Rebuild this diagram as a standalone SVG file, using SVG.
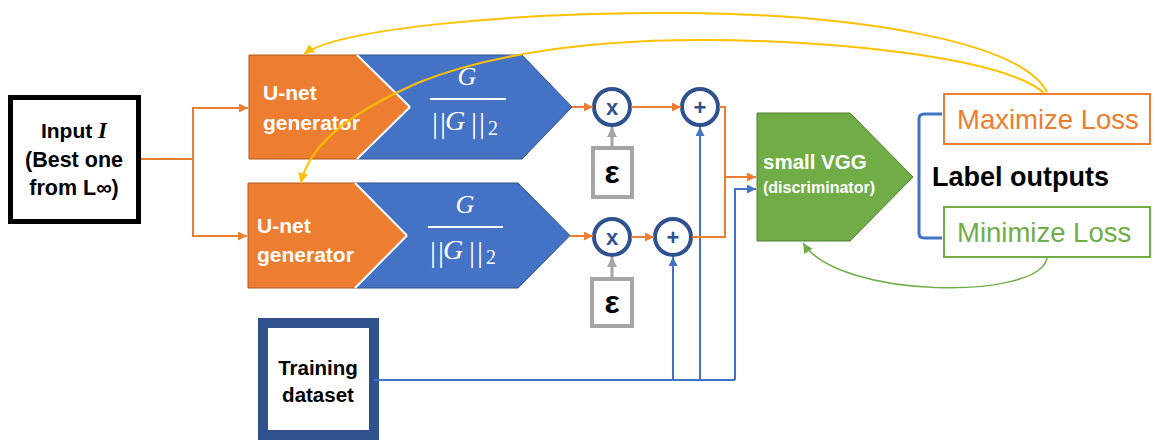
<svg xmlns="http://www.w3.org/2000/svg" width="1155" height="440" viewBox="0 0 1155 440">
  <style>
    .lbl { font-family: "Liberation Sans", Arial, sans-serif; font-weight: bold; }
    .wht { fill: #ffffff; }
    .math { font-family: "Liberation Serif", "DejaVu Serif", serif; fill: #ffffff; }
    .op { font-family: "Liberation Sans", Arial, sans-serif; font-weight: bold; fill: #2F528F; font-size: 22px; text-anchor: middle; }
    .eps { font-family: "Liberation Sans", Arial, sans-serif; font-weight: bold; fill: #000; font-size: 32px; text-anchor: middle; }
    .circ { fill: #ffffff; stroke: #2F528F; stroke-width: 4; }
    .epsbox { fill: #ffffff; stroke: #A5A5A5; stroke-width: 4; }
    .unet { fill: #ED7D31; stroke: #AE5A21; stroke-width: 1; }
    .norm { fill: #4472C4; stroke: #2F528F; stroke-width: 1; }
    .orange { fill: none; stroke: #ED7D31; stroke-width: 2; }
    .blue { fill: none; stroke: #4472C4; stroke-width: 2; }
    .gray { fill: none; stroke: #A5A5A5; stroke-width: 3; }
    .yellow { fill: none; stroke: #FFC000; stroke-width: 2; }
    .green { fill: none; stroke: #70AD47; stroke-width: 1.5; }
  </style>
  <defs>
    <marker id="ahO" viewBox="0 0 10 10" refX="10" refY="5" markerWidth="9" markerHeight="9" markerUnits="userSpaceOnUse" orient="auto">
      <path d="M0,0 L10,5 L0,10 z" fill="#ED7D31"/>
    </marker>
    <marker id="ahB" viewBox="0 0 10 10" refX="10" refY="5" markerWidth="9" markerHeight="9" markerUnits="userSpaceOnUse" orient="auto">
      <path d="M0,0 L10,5 L0,10 z" fill="#4472C4"/>
    </marker>
    <marker id="ahG" viewBox="0 0 10 10" refX="10" refY="5" markerWidth="10" markerHeight="10" markerUnits="userSpaceOnUse" orient="auto">
      <path d="M0,0 L10,5 L0,10 z" fill="#A5A5A5"/>
    </marker>
    <marker id="ahY" viewBox="0 0 10 10" refX="10" refY="5" markerWidth="10" markerHeight="10" markerUnits="userSpaceOnUse" orient="auto">
      <path d="M0,0 L10,5 L0,10 z" fill="#FFC000"/>
    </marker>
    <marker id="ahGr" viewBox="0 0 10 10" refX="10" refY="5" markerWidth="10" markerHeight="10" markerUnits="userSpaceOnUse" orient="auto">
      <path d="M0,0 L10,5 L0,10 z" fill="#70AD47"/>
    </marker>
  </defs>

  <rect width="1155" height="440" fill="#ffffff"/>

  <!-- input image -->
  <g id="input">
    <rect x="10.5" y="97.5" width="128" height="124" fill="#ffffff" stroke="#000" stroke-width="5"/>
    <text class="lbl" font-size="21" text-anchor="middle" x="74" y="138">Input <tspan font-family="Liberation Serif, serif" font-style="italic" font-size="23">I</tspan></text>
    <text class="lbl" font-size="21.5" text-anchor="middle" x="74" y="167">(Best one</text>
    <text class="lbl" font-size="21.5" text-anchor="middle" x="74" y="195">from L∞)</text>
  </g>

  <!-- upper generator branch -->
  <g id="unet-top">
    <polygon class="unet" points="249,55 357,55 410,107 357,159 249,159"/>
    <text class="lbl wht" font-size="21" x="263" y="100">U-net</text>
    <text class="lbl wht" font-size="21" x="263" y="130">generator</text>
  </g>
  <g id="norm-top">
    <polygon class="norm" points="357,55 522,55 572,107 522,159 357,159 410,107"/>
    <line x1="357" y1="55" x2="410" y2="107" stroke="#fff" stroke-width="2"/>
    <line x1="410" y1="107" x2="357" y2="159" stroke="#fff" stroke-width="2"/>
    <text class="math" font-size="26" font-style="italic" text-anchor="middle" x="467" y="85">G</text>
    <line x1="430" y1="99" x2="506" y2="99" stroke="#fff" stroke-width="2"/>
    <text class="math" font-size="30" y="133"><tspan x="432">|</tspan><tspan x="440">|</tspan><tspan x="445" y="130" font-style="italic" font-size="28">G</tspan><tspan x="471" y="133">|</tspan><tspan x="479">|</tspan><tspan x="488" y="135" font-size="20">2</tspan></text>
  </g>

  <!-- lower generator branch -->
  <g id="unet-bottom">
    <polygon class="unet" points="248,183 355,183 407,235.5 355,288 248,288"/>
    <text class="lbl wht" font-size="21" x="257" y="233">U-net</text>
    <text class="lbl wht" font-size="21" x="257" y="262">generator</text>
  </g>
  <g id="norm-bottom">
    <polygon class="norm" points="355,183 518,183 570,235.5 518,288 355,288 407,235.5"/>
    <line x1="355" y1="183" x2="407" y2="235.5" stroke="#fff" stroke-width="2"/>
    <line x1="407" y1="235.5" x2="355" y2="288" stroke="#fff" stroke-width="2"/>
    <text class="math" font-size="26" font-style="italic" text-anchor="middle" x="465" y="213">G</text>
    <line x1="428" y1="227" x2="503" y2="227" stroke="#fff" stroke-width="2"/>
    <text class="math" font-size="30" y="262"><tspan x="430">|</tspan><tspan x="438">|</tspan><tspan x="443" y="259" font-style="italic" font-size="28">G</tspan><tspan x="469" y="262">|</tspan><tspan x="477">|</tspan><tspan x="486" y="264" font-size="20">2</tspan></text>
  </g>

  <!-- scale and add operators -->
  <g id="mul-top">
    <circle class="circ" cx="612" cy="107" r="18"/>
    <text class="op" x="612" y="115">x</text>
  </g>
  <g id="add-top">
    <circle class="circ" cx="700" cy="107" r="18"/>
    <text class="op" x="700" y="115">+</text>
  </g>
  <g id="mul-bottom">
    <circle class="circ" cx="612" cy="237" r="18"/>
    <text class="op" x="612" y="245">x</text>
  </g>
  <g id="add-bottom">
    <circle class="circ" cx="673" cy="237" r="18"/>
    <text class="op" x="673" y="245">+</text>
  </g>
  <g id="eps-top">
    <rect class="epsbox" x="593" y="148" width="39" height="49"/>
    <text class="eps" x="612" y="183">ε</text>
  </g>
  <g id="eps-bottom">
    <rect class="epsbox" x="592" y="279" width="40" height="47"/>
    <text class="eps" x="612" y="313">ε</text>
  </g>

  <!-- training data -->
  <g id="dataset">
    <rect x="263" y="323" width="111" height="112" fill="#ffffff" stroke="#2F528F" stroke-width="10"/>
    <text class="lbl" font-size="20.5" text-anchor="middle" x="318" y="375">Training</text>
    <text class="lbl" font-size="20.5" text-anchor="middle" x="318" y="402">dataset</text>
  </g>

  <!-- discriminator -->
  <g id="discriminator">
    <polygon points="757,113 850,113 913,177 850,241 757,241" fill="#70AD47" stroke="#507E32" stroke-width="1"/>
    <text class="lbl wht" font-size="20.5" x="763" y="169">small VGG</text>
    <text class="lbl wht" font-size="16" x="763" y="193">(discriminator)</text>
  </g>

  <!-- outputs -->
  <g id="outputs">
    <path d="M942,114 L924,114 Q919,114 919,119 L919,233 Q919,238 924,238 L942,238" fill="none" stroke="#4472C4" stroke-width="3"/>
    <text class="lbl" font-size="27" x="932" y="186">Label outputs</text>
  </g>
  <g id="maximize">
    <rect x="944" y="94" width="206" height="50" fill="#ffffff" stroke="#ED7D31" stroke-width="2"/>
    <text font-family="Liberation Sans, Arial, sans-serif" font-size="27.5" fill="#ED7D31" x="957" y="129">Maximize Loss</text>
  </g>
  <g id="minimize">
    <rect x="944" y="207" width="206" height="50" fill="#ffffff" stroke="#70AD47" stroke-width="2"/>
    <text font-family="Liberation Sans, Arial, sans-serif" font-size="27.5" fill="#70AD47" x="957" y="242">Minimize Loss</text>
  </g>

  <g id="connectors">
    <!-- input split -->
    <polyline class="orange" points="141,159 193,159"/>
    <polyline class="orange" points="193,159 193,108 248,108" marker-end="url(#ahO)"/>
    <polyline class="orange" points="193,159 193,236 247,236" marker-end="url(#ahO)"/>
    <!-- normalized output to operators -->
    <line class="orange" x1="572" y1="107" x2="593" y2="107" marker-end="url(#ahO)"/>
    <line class="orange" x1="631" y1="107" x2="681" y2="107" marker-end="url(#ahO)"/>
    <line class="orange" x1="570" y1="236" x2="593" y2="236" marker-end="url(#ahO)"/>
    <line class="orange" x1="631" y1="237" x2="654" y2="237" marker-end="url(#ahO)"/>
    <!-- epsilon into multipliers -->
    <line class="gray" x1="612" y1="146" x2="612" y2="127" marker-end="url(#ahG)"/>
    <line class="gray" x1="612" y1="277" x2="612" y2="257" marker-end="url(#ahG)"/>
    <!-- training data to adders and discriminator -->
    <polyline class="blue" points="374,380 735,380"/>
    <line class="blue" x1="673" y1="380" x2="673" y2="257" marker-end="url(#ahB)"/>
    <line class="blue" x1="700" y1="380" x2="700" y2="127" marker-end="url(#ahB)"/>
    <polyline class="blue" points="735,380 735,189 756,189" marker-end="url(#ahB)"/>
    <!-- adders to discriminator -->
    <polyline class="orange" points="719,107 725,107 725,237 692,237"/>
    <line class="orange" x1="725" y1="177" x2="756" y2="177" marker-end="url(#ahO)"/>
    <!-- loss feedback -->
    <path class="yellow" d="M1047,92 C1020,40 850,14 680,13 C520,12 340,28 304,54" marker-end="url(#ahY)"/>
    <path class="yellow" d="M1044,93 C1000,55 820,40 700,40 C560,40 470,62 420,82 C360,108 310,140 301,183" marker-end="url(#ahY)"/>
    <path class="green" d="M1047,258 C1040,300 840,300 803,243" marker-end="url(#ahGr)"/>
  </g>
</svg>
